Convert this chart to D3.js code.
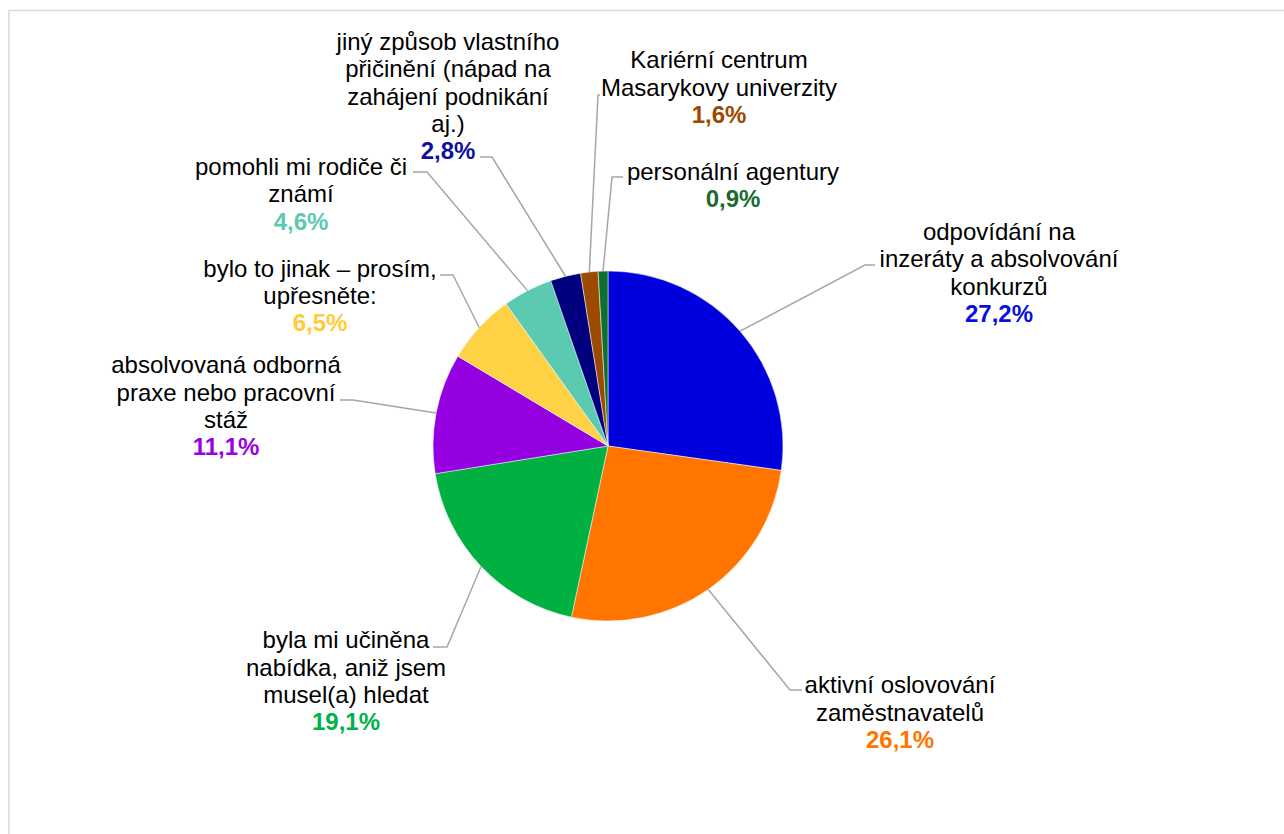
<!DOCTYPE html>
<html>
<head>
<meta charset="utf-8">
<script src="https://cdn.jsdelivr.net/npm/d3@7"></script>
<style>
  html, body { margin: 0; padding: 0; background: #fff; }
  svg { display: block; }
</style>
</head>
<body>
<svg id="chart" width="1284" height="834"></svg>
<script>
// ---- data ----
const categories = [
  "odpovídání na inzeráty a absolvování konkurzů",
  "aktivní oslovování zaměstnavatelů",
  "byla mi učiněna nabídka, aniž jsem musel(a) hledat",
  "absolvovaná odborná praxe nebo pracovní stáž",
  "bylo to jinak – prosím, upřesněte:",
  "pomohli mi rodiče či známí",
  "jiný způsob vlastního přičinění (nápad na zahájení podnikání aj.)",
  "Kariérní centrum Masarykovy univerzity",
  "personální agentury"
];
const values = [27.2, 26.1, 19.1, 11.1, 6.5, 4.6, 2.8, 1.6, 0.9];
const valueLabels = ["27,2%", "26,1%", "19,1%", "11,1%", "6,5%", "4,6%", "2,8%", "1,6%", "0,9%"];
const labelLines = [
  ["odpovídání na", "inzeráty a absolvování", "konkurzů"],
  ["aktivní oslovování", "zaměstnavatelů"],
  ["byla mi učiněna", "nabídka, aniž jsem", "musel(a) hledat"],
  ["absolvovaná odborná", "praxe nebo pracovní", "stáž"],
  ["bylo to jinak – prosím,", "upřesněte:"],
  ["pomohli mi rodiče či", "známí"],
  ["jiný způsob vlastního", "přičinění (nápad na", "zahájení podnikání", "aj.)"],
  ["Kariérní centrum", "Masarykovy univerzity"],
  ["personální agentury"]
];

// ---- styles / layout ----
const sliceColors = ["#0000DC", "#FF7500", "#00B040", "#9500E0", "#FFD145", "#5CC9B1", "#00007E", "#9B4A00", "#0E7030"];
const pctColors   = ["#0A10DC", "#FF7500", "#00B24A", "#9A00E4", "#FFCC3A", "#5CC9B1", "#10109E", "#9B4A00", "#1A6B32"];
// label block: center x, first line center y; leader: start point, elbow point
const labelLayout = [
  {cx: 999, y: 231.7, start: [875, 265], elbow: [865, 265]},
  {cx: 900, y: 685,   start: [802, 690], elbow: [790, 690]},
  {cx: 346, y: 640,   start: [433, 647], elbow: [447, 647]},
  {cx: 226, y: 365,   start: [340, 400], elbow: [353, 400]},
  {cx: 320, y: 268.3, start: [440, 275], elbow: [453, 275]},
  {cx: 301, y: 166.7, start: [413, 172], elbow: [427, 172]},
  {cx: 448, y: 41.7,  start: [480, 157], elbow: [492, 157]},
  {cx: 719, y: 60,    start: [600, 95],  elbow: [598, 95]},
  {cx: 733, y: 171.7, start: [623, 177], elbow: [612, 177]}
];
const lineH = 27.3;
const cxPie = 608, cyPie = 446, R = 175;

const svg = d3.select("#chart");

svg.append("rect")
  .attr("x", 9).attr("y", 10.5)
  .attr("width", 1290).attr("height", 840)
  .attr("fill", "#fff")
  .attr("stroke", "#d9d9d9").attr("stroke-width", 1.5);

const pie = d3.pie().sort(null).value(d => d)(values);
const arc = d3.arc().innerRadius(0).outerRadius(R);

const g = svg.append("g").attr("transform", `translate(${cxPie},${cyPie})`);
g.selectAll("path.slice")
  .data(pie)
  .join("path")
  .attr("class", "slice")
  .attr("d", arc)
  .attr("fill", (d, i) => sliceColors[i])
  .attr("stroke", "#fff")
  .attr("stroke-width", 0.5);

// leader lines
const edgePoint = d => {
  const a = (d.startAngle + d.endAngle) / 2;
  return [cxPie + R * Math.sin(a), cyPie - R * Math.cos(a)];
};
svg.selectAll("path.leader")
  .data(pie)
  .join("path")
  .attr("class", "leader")
  .attr("d", (d, i) => d3.line()([labelLayout[i].start, labelLayout[i].elbow, edgePoint(d)]))
  .attr("fill", "none")
  .attr("stroke", "#a6a6a6")
  .attr("stroke-width", 1.5);

// labels
const font = "'Liberation Sans', Arial, sans-serif";
categories.forEach((c, i) => {
  const L = labelLayout[i];
  const t = svg.append("text")
    .attr("text-anchor", "middle")
    .attr("font-family", font)
    .attr("font-size", 24);
  labelLines[i].forEach((ln, j) => {
    t.append("tspan")
      .attr("x", L.cx)
      .attr("y", L.y + j * lineH)
      .attr("dy", "0.35em")
      .attr("fill", "#000")
      .text(ln);
  });
  t.append("tspan")
    .attr("x", L.cx)
    .attr("y", L.y + labelLines[i].length * lineH)
    .attr("dy", "0.35em")
    .attr("fill", pctColors[i])
    .attr("font-weight", "bold")
    .text(valueLabels[i]);
});
</script>
</body>
</html>
